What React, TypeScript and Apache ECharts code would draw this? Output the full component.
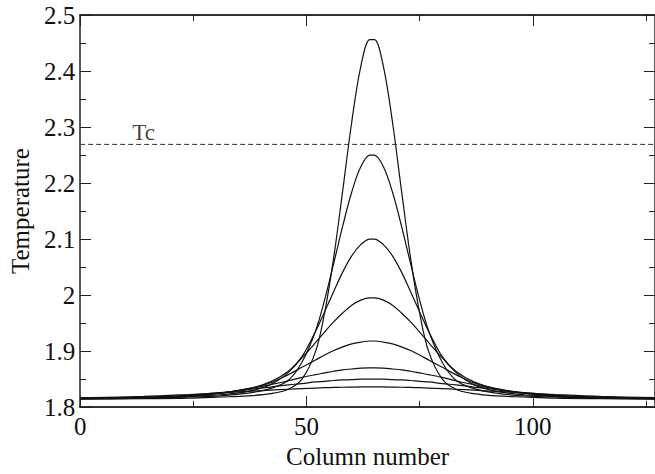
import React, { useEffect, useRef } from "react";
import * as echarts from "echarts";

// Profiles are symmetric about the peak column; values read at these distances from the centre
const CENTER = 64.5;
const offsets = [0.5, 2.5, 4.5, 6.5, 8.5, 10.5, 12.5, 15.5, 18.5, 22.5, 27.5, 33.5, 40.5, 50.5, 64.5];

const curveA = [2.456, 2.408, 2.309, 2.186, 2.066, 1.968, 1.899, 1.850, 1.832, 1.824, 1.820, 1.818, 1.816, 1.815, 1.814];
const curveB = [2.250, 2.229, 2.184, 2.123, 2.056, 1.991, 1.936, 1.880, 1.848, 1.833, 1.825, 1.820, 1.818, 1.816, 1.815];
const curveC = [2.100, 2.090, 2.070, 2.041, 2.006, 1.970, 1.935, 1.890, 1.862, 1.840, 1.828, 1.822, 1.819, 1.817, 1.815];
const curveD = [1.995, 1.991, 1.982, 1.968, 1.952, 1.934, 1.915, 1.888, 1.864, 1.845, 1.832, 1.825, 1.820, 1.817, 1.816];
const curveE = [1.918, 1.916, 1.913, 1.9075, 1.901, 1.893, 1.884, 1.871, 1.858, 1.843, 1.833, 1.825, 1.820, 1.817, 1.816];
const curveF = [1.870, 1.8695, 1.868, 1.8665, 1.864, 1.861, 1.858, 1.853, 1.847, 1.840, 1.832, 1.8247, 1.819, 1.816, 1.815];
const curveG = [1.850, 1.8498, 1.849, 1.8485, 1.8475, 1.846, 1.845, 1.842, 1.8396, 1.8358, 1.831, 1.826, 1.8214, 1.8175, 1.8155];
const curveH = [1.836, 1.836, 1.8357, 1.8354, 1.8351, 1.8346, 1.834, 1.833, 1.8319, 1.8302, 1.828, 1.8253, 1.8224, 1.819, 1.8165];

const curves = [curveA, curveB, curveC, curveD, curveE, curveF, curveG, curveH];

const TC = 2.269;
const tcLabelPos = [14, 2.29];

const xMin = 0;
const xMax = 127;
const yMin = 1.8;
const yMax = 2.5;

const FONT = "'Liberation Serif', 'Times New Roman', serif";
const FONT_SIZE = 25;
const AXIS_COLOR = "#222";

function buildData(vals: number[]) {
  const left: number[][] = [];
  const right: number[][] = [];
  for (let i = offsets.length - 1; i >= 0; i--) left.push([CENTER - offsets[i], vals[i]]);
  for (let i = 0; i < offsets.length; i++) right.push([CENTER + offsets[i], vals[i]]);
  return left.concat(right);
}

export default function App() {
  const ref = useRef<HTMLDivElement>(null);
  useEffect(() => {
    if (!ref.current) return;
    const chart = echarts.init(ref.current, null, { renderer: "svg" });
    const xCommon = (position: string, interval: number, tickLen: number, labels: boolean, name?: string) => ({
      type: "value",
      position,
      min: xMin,
      max: xMax,
      interval,
      axisLine: { show: true, onZero: false, lineStyle: { color: AXIS_COLOR, width: 1.5 } },
      axisTick: { show: true, inside: true, length: tickLen, lineStyle: { color: AXIS_COLOR, width: 1 } },
      axisLabel: labels
        ? { show: true, fontSize: FONT_SIZE, fontFamily: FONT, color: "#111", margin: 7, showMaxLabel: false }
        : { show: false },
      splitLine: { show: false },
      name: name || "",
      nameLocation: "middle",
      nameGap: 30,
      nameTextStyle: { fontSize: FONT_SIZE, fontFamily: FONT, color: "#111" },
    });
    const yCommon = (position: string, labels: boolean, name?: string) => ({
      type: "value",
      position,
      min: yMin,
      max: yMax,
      interval: 0.1,
      axisLine: { show: true, onZero: false, lineStyle: { color: AXIS_COLOR, width: 1.5 } },
      axisTick: { show: true, inside: true, length: 11, lineStyle: { color: AXIS_COLOR, width: 1 } },
      minorTick: { show: true, splitNumber: 2, length: 6, lineStyle: { color: AXIS_COLOR, width: 1 } },
      axisLabel: labels
        ? { show: true, fontSize: FONT_SIZE, fontFamily: FONT, color: "#111", margin: 5 }
        : { show: false },
      splitLine: { show: false },
      minorSplitLine: { show: false },
      name: name || "",
      nameLocation: "middle",
      nameGap: 43,
      nameTextStyle: { fontSize: FONT_SIZE, fontFamily: FONT, color: "#111" },
    });

    const option: any = {
      animation: false,
      backgroundColor: "#fff",
      grid: { left: 73, top: 15, width: 585, height: 408, containLabel: false },
      xAxis: [
        xCommon("bottom", 50, 11, true, "Column number"),
        xCommon("bottom", 25, 6, false),
        xCommon("top", 50, 11, false),
        xCommon("top", 25, 6, false),
      ],
      yAxis: [yCommon("left", true, "Temperature"), yCommon("right", false)],
      series: [
        ...curves.map((c) => ({
          type: "line",
          data: buildData(c),
          xAxisIndex: 0,
          yAxisIndex: 0,
          smooth: 0.35,
          showSymbol: false,
          symbol: "none",
          clip: true,
          lineStyle: { color: "#111", width: 1.2 },
        })),
        {
          type: "line",
          data: [
            [xMin, TC],
            [xMax, TC],
          ],
          showSymbol: false,
          symbol: "none",
          lineStyle: { color: "#333", width: 1, type: [5, 3] },
        },
        {
          type: "scatter",
          data: [tcLabelPos],
          symbolSize: 1,
          itemStyle: { color: "rgba(0,0,0,0)" },
          label: {
            show: true,
            position: "inside",
            formatter: "Tc",
            fontSize: 23,
            fontFamily: FONT,
            color: "#111",
          },
        },
      ],
    };
    chart.setOption(option);
    return () => chart.dispose();
  }, []);
  return (
    <div
      ref={ref}
      style={{ position: "fixed", left: 0, top: 0, width: 655, height: 474, background: "#fff" }}
    />
  );
}
